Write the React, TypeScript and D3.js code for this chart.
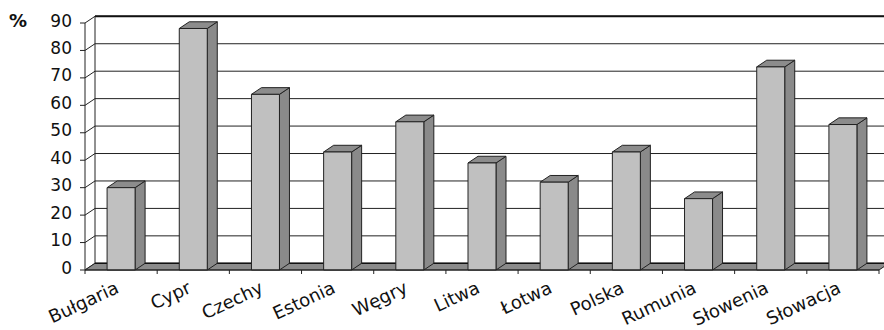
import React from "react";
import * as d3 from "d3";

const categories = ["Bułgaria", "Cypr", "Czechy", "Estonia", "Węgry", "Litwa", "Łotwa", "Polska", "Rumunia", "Słowenia", "Słowacja"];
const values = [30, 88, 64, 43, 54, 39, 32, 43, 26, 74, 53];
const yTicks = [0, 10, 20, 30, 40, 50, 60, 70, 80, 90];
const yUnit = "%";

const W = 884;
const H = 330;
const X0 = 85;
const X1 = 879;
const Y0 = 270;
const Y1 = 23;
const DX = 10;
const DY = -6.7;
const BAR_W = 28;
const FONT = "'DejaVu Sans', sans-serif";

export default function App() {
  const x = d3.scaleBand<string>().domain(categories).range([X0, X1]).padding(0);
  const y = d3.scaleLinear().domain([0, 90]).range([Y0, Y1]);
  const bw = x.bandwidth();
  const pts = (arr: [number, number][]) => arr.map((p) => p.join(",")).join(" ");

  return (
    <svg width={W} height={H} style={{ position: "fixed", left: 0, top: 0, background: "#fff" }}>
      {/* back wall */}
      <rect x={X0 + DX} y={y(90) + DY} width={W} height={y(0) - y(90)} fill="#fff" />
      {/* gridlines on back wall */}
      {yTicks.slice(1).map((t) => (
        <line key={"g" + t} x1={X0 + DX} x2={W} y1={y(t) + DY} y2={y(t) + DY} stroke="#222" strokeWidth={1} />
      ))}
      {/* top border */}
      <line x1={X0 + DX} x2={W} y1={y(90) + DY} y2={y(90) + DY} stroke="#111" strokeWidth={2} />
      {/* wall left edge */}
      <line x1={X0 + DX} x2={X0 + DX} y1={y(90) + DY} y2={y(0) + DY} stroke="#222" strokeWidth={1} />
      {/* side wall diagonals */}
      {yTicks.map((t) => (
        <line key={"d" + t} x1={X0} y1={y(t)} x2={X0 + DX} y2={y(t) + DY} stroke="#222" strokeWidth={1} />
      ))}
      {/* floor */}
      <polygon
        points={pts([[X0, Y0], [X1, Y0], [X1 + DX, Y0 + DY], [X0 + DX, Y0 + DY]])}
        fill="#8a8a8a"
        stroke="#222"
        strokeWidth={1}
      />
      <line x1={X0 + DX} x2={W} y1={Y0 + DY} y2={Y0 + DY} stroke="#111" strokeWidth={1.5} />
      {/* bars */}
      {categories.map((c, i) => {
        const cx = (x(c) as number) + bw / 2;
        const l = cx - BAR_W / 2;
        const r = cx + BAR_W / 2;
        const top = y(values[i]);
        return (
          <g key={c} stroke="#222" strokeWidth={1} strokeLinejoin="round">
            <polygon points={pts([[r, Y0], [r + DX, Y0 + DY], [r + DX, top + DY], [r, top]])} fill="#8a8a8a" />
            <polygon points={pts([[l, top], [r, top], [r + DX, top + DY], [l + DX, top + DY]])} fill="#8c8c8c" />
            <rect x={l} y={top} width={BAR_W} height={Y0 - top} fill="#c0c0c0" />
          </g>
        );
      })}
      {/* y axis */}
      <line x1={X0} x2={X0} y1={Y1} y2={Y0} stroke="#222" strokeWidth={1} />
      {yTicks.map((t) => (
        <g key={"yt" + t}>
          <line x1={X0 - 5} x2={X0} y1={y(t)} y2={y(t)} stroke="#222" strokeWidth={1} />
          <text x={72} y={y(t) + 3.5} textAnchor="end" fontFamily={FONT} fontSize={17} fill="#111">
            {t}
          </text>
        </g>
      ))}
      <text x={18} y={27} textAnchor="middle" fontFamily={FONT} fontSize={18} fontWeight="bold" fill="#111">
        {yUnit}
      </text>
      {/* x axis */}
      <line x1={X0} x2={X1} y1={Y0} y2={Y0} stroke="#222" strokeWidth={1} />
      {d3.range(categories.length + 1).map((k) => (
        <line key={"xt" + k} x1={X0 + k * bw} x2={X0 + k * bw} y1={Y0} y2={Y0 + 4} stroke="#222" strokeWidth={1} />
      ))}
      {categories.map((c) => {
        const cx = (x(c) as number) + bw / 2;
        const ax = cx - 1;
        const ay = 292;
        return (
          <text
            key={"l" + c}
            x={ax}
            y={ay}
            textAnchor="end"
            fontFamily={FONT}
            fontSize={18}
            fill="#111"
            transform={`rotate(-25 ${ax} ${ay})`}
          >
            {c}
          </text>
        );
      })}
    </svg>
  );
}
